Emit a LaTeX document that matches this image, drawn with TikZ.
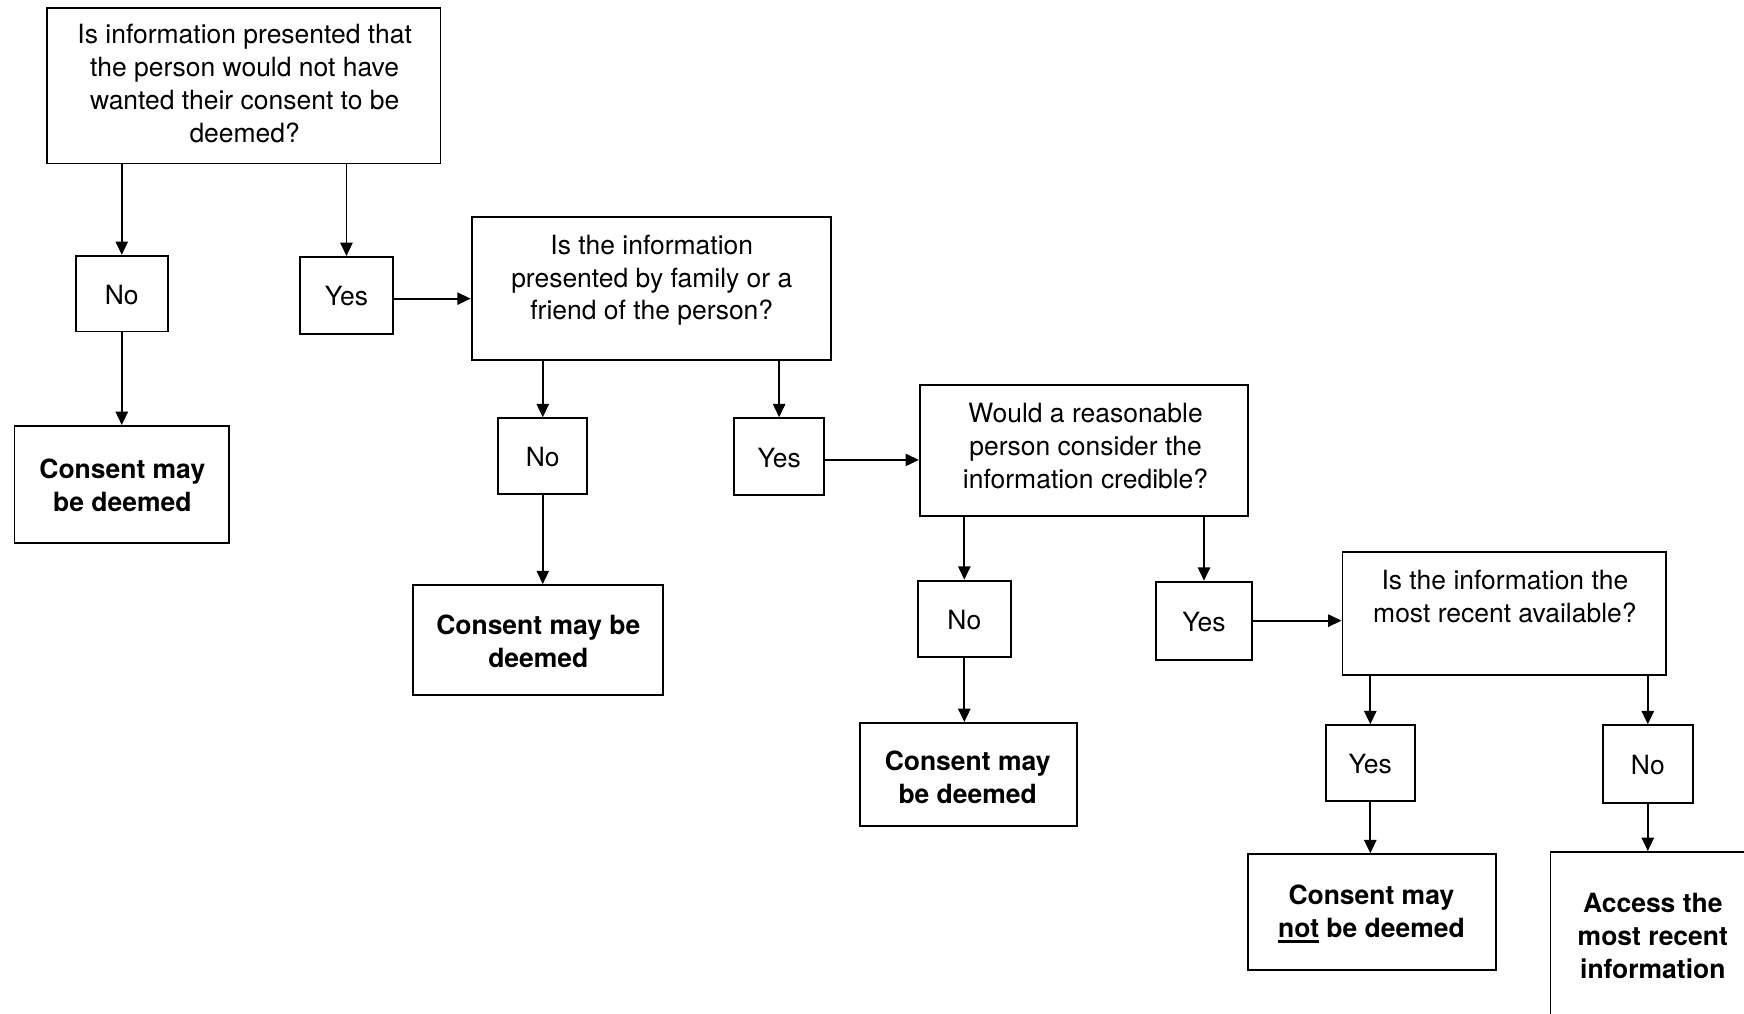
\documentclass[tikz,border=0pt]{standalone}
\usepackage{fontspec}
\setmainfont{TeX Gyre Heros}
\usetikzlibrary{arrows.meta}
\newcommand\myul[1]{\setbox0\hbox{#1}\rlap{\rule[-5pt]{\wd0}{2.4pt}}\box0{}}
\begin{document}
\begin{tikzpicture}[x=1pt,y=1pt,
  box/.style={draw=black, line width=1.7pt, rectangle, inner sep=0pt},
  txt/.style={align=center, inner sep=0pt, font=\fontsize{23.8}{29.5}\selectfont},
  btxt/.style={txt, font=\fontsize{23.8}{29.5}\selectfont\bfseries},
  arr/.style={line width=1.7pt, -{Triangle[length=12pt,width=11pt]}}]
\useasboundingbox (0,0) rectangle (1568,-911);
% boxes
\node[box, minimum width=354pt, minimum height=140pt] (q1) at (219,-77) {};
\node[box, minimum width=83pt, minimum height=68pt] (no1) at (109.5,-264) {};
\node[box, minimum width=83pt, minimum height=69pt] (yes1) at (311.5,-265.5) {};
\node[box, minimum width=193pt, minimum height=105pt] (c1) at (109.5,-435.5) {};
\node[box, minimum width=323pt, minimum height=129pt] (q2) at (585.5,-259.5) {};
\node[box, minimum width=80pt, minimum height=68pt] (no2) at (488,-410) {};
\node[box, minimum width=81pt, minimum height=69pt] (yes2) at (700.5,-410.5) {};
\node[box, minimum width=225pt, minimum height=99pt] (c2) at (483.5,-575.5) {};
\node[box, minimum width=295pt, minimum height=118pt] (q3) at (974.5,-405) {};
\node[box, minimum width=84pt, minimum height=69pt] (no3) at (867,-556.5) {};
\node[box, minimum width=87pt, minimum height=70pt] (yes3) at (1082.5,-558) {};
\node[box, minimum width=195pt, minimum height=93pt] (c3) at (870.5,-696.5) {};
\node[box, minimum width=291pt, minimum height=111pt] (q4) at (1352.5,-551.5) {};
\node[box, minimum width=80pt, minimum height=68pt] (yes4) at (1232,-686) {};
\node[box, minimum width=81pt, minimum height=70pt] (no4) at (1481.5,-687) {};
\node[box, minimum width=223pt, minimum height=104pt] (c4) at (1233.5,-820) {};
\node[box, minimum width=186pt, minimum height=164pt] (c5) at (1487,-848) {};
% texts
\node[txt] (q1t) at (220,-75) {Is information presented that\\the person would not have\\wanted their consent to be\\deemed?};
\node[txt] (no1t) at ([yshift=-1pt]no1.center) {No};
\node[txt] (yes1t) at ([yshift=-1pt]yes1.center) {Yes};
\node[btxt] (c1t) at (110,-436.5) {Consent may\\be deemed};
\node[txt] (q2t) at (586,-252) {Is the information\\presented by family or a\\friend of the person?};
\node[txt] (no2t) at ([yshift=-1pt]no2.center) {No};
\node[txt] (yes2t) at ([yshift=-1pt]yes2.center) {Yes};
\node[btxt] (c2t) at (484,-576.5) {Consent may be\\deemed};
\node[txt] (q3t) at (976,-401) {Would a reasonable\\person consider the\\information credible?};
\node[txt] (no3t) at ([yshift=-1pt]no3.center) {No};
\node[txt] (yes3t) at ([yshift=-1pt]yes3.center) {Yes};
\node[btxt] (c3t) at (870,-698.5) {Consent may\\be deemed};
\node[txt] (q4t) at (1353,-536.5) {Is the information the\\most recent available?};
\node[txt] (yes4t) at ([yshift=-1pt]yes4.center) {Yes};
\node[txt] (no4t) at ([yshift=-1pt]no4.center) {No};
\node[btxt] (c4t) at (1233,-821.5) {Consent may\\\myul{not} be deemed};
\node[btxt] (c5t) at (1486,-841.5) {Access the\\most recent\\information};
% connectors
\draw[arr] (q1.south -| no1.north) -- (no1.north);
\draw[arr] (q1.south -| yes1.north) -- (yes1.north);
\draw[arr] (no1.south) -- (no1.south |- c1.north);
\draw[arr] ([yshift=-3pt]yes1.east) -- ([yshift=-3pt]yes1.east -| q2.west);
\draw[arr] (q2.south -| no2.north) -- (no2.north);
\draw[arr] (q2.south -| yes2.north) -- (yes2.north);
\draw[arr] (no2.south) -- (no2.south |- c2.north);
\draw[arr] ([yshift=-3pt]yes2.east) -- ([yshift=-3pt]yes2.east -| q3.west);
\draw[arr] (q3.south -| no3.north) -- (no3.north);
\draw[arr] (q3.south -| yes3.north) -- (yes3.north);
\draw[arr] (no3.south) -- (no3.south |- c3.north);
\draw[arr] (yes3.east) -- (yes3.east -| q4.west);
\draw[arr] (q4.south -| yes4.north) -- (yes4.north);
\draw[arr] (q4.south -| no4.north) -- (no4.north);
\draw[arr] (yes4.south) -- (yes4.south |- c4.north);
\draw[arr] (no4.south) -- (no4.south |- c5.north);
\end{tikzpicture}
\end{document}
